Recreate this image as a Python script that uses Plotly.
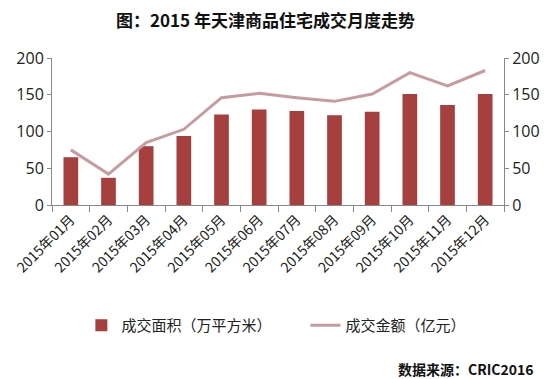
import plotly.graph_objects as go

months = ["2015年01月", "2015年02月", "2015年03月", "2015年04月", "2015年05月", "2015年06月",
          "2015年07月", "2015年08月", "2015年09月", "2015年10月", "2015年11月", "2015年12月"]
area = [65, 37, 80, 94, 123, 130, 128, 122, 127, 151, 136, 151]
amount = [75, 42, 85, 103, 146, 152, 146, 141, 151, 180, 162, 183]
yticks = [0, 50, 100, 150, 200]

FONT = "Noto Sans CJK SC, sans-serif"
fig = go.Figure()
fig.add_trace(go.Bar(x=months, y=area, name="成交面积（万平方米）",
                     marker=dict(color="#A5403F", line=dict(width=0)), yaxis="y"))
fig.add_trace(go.Scatter(x=months, y=amount, name="成交金额（亿元）", mode="lines",
                         line=dict(color="#C69CA0", width=3), yaxis="y2"))

axis_common = dict(range=[0, 200], tickvals=yticks, showgrid=False, zeroline=False,
                   showline=True, linecolor="#888888", linewidth=1, ticks="outside",
                   ticklen=4, tickcolor="#888888", automargin=False,
                   tickfont=dict(size=16, color="#222222", family="Open Sans, sans-serif"))
fig.update_layout(
    width=553, height=379,
    margin=dict(l=52, r=49, t=58, b=174, autoexpand=False),
    paper_bgcolor="white", plot_bgcolor="white",
    font=dict(family=FONT, color="#222222"),
    title=dict(text="<b>图：2015 年天津商品住宅成交月度走势</b>", x=0.48, xanchor="center",
               y=0.945, yanchor="middle", font=dict(size=17, color="#111111")),
    bargap=0.61,
    xaxis=dict(type="category", showline=True, linecolor="#888888", linewidth=1,
               ticks="outside", tickson="boundaries", ticklen=6, tickcolor="#888888",
               tickangle=-45, tickfont=dict(size=14, color="#222222"), showgrid=False,
               automargin=False),
    yaxis=dict(**axis_common),
    yaxis2=dict(**axis_common, overlaying="y", side="right"),
    legend=dict(orientation="h", x=0.065, y=-0.82, xanchor="left", yanchor="middle",
                font=dict(size=15, color="#222222"), itemwidth=30, tracegroupgap=0,
                entrywidth=179, entrywidthmode="pixels"),
    showlegend=True,
)
fig.add_annotation(text="<b>数据来源：CRIC2016</b>", xref="paper", yref="paper",
                   x=(536 - 52) / 452, y=(205 - 369) / 147, xanchor="right", yanchor="middle",
                   showarrow=False, font=dict(size=14, color="#111111"))
fig.write_html("out.html", config={"displayModeBar": False},
               post_script="document.body.style.margin='0';")
